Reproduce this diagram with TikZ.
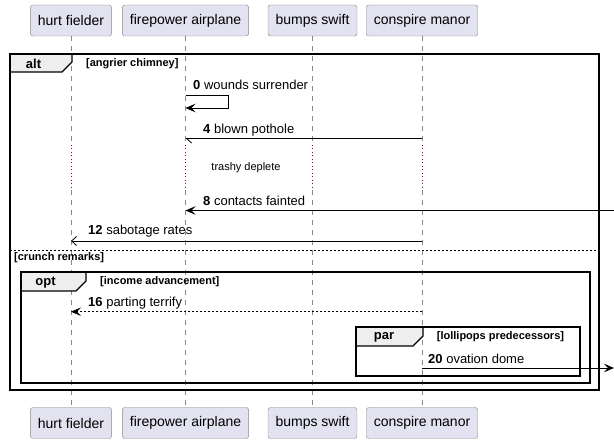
\documentclass[tikz,border=0pt]{standalone}
\usepackage{fontspec}
\setmainfont{Liberation Sans}
\usetikzlibrary{arrows.meta}
\definecolor{boxfill}{HTML}{E2E2F0}
\definecolor{boxline}{HTML}{888888}
\definecolor{tabfill}{HTML}{EEEEEE}
\definecolor{delayred}{HTML}{A80036}
\tikzset{
% Participant boxes, drawn at the top and again at the foot
participant box/.style={draw=boxline,fill=boxfill,rounded corners=2.5,minimum height=31pt,inner xsep=7.5pt,font=\fontsize{14}{16}\selectfont},
% Lifelines: dashed, dotted red while the delay lasts
life line/.style={draw=boxline,line width=0.6pt,dash pattern=on 5pt off 5pt},
delay line/.style={draw=delayred,line width=0.8pt,dash pattern=on 1pt off 2.5pt},
% Messages and their labels
msg label/.style={anchor=west,inner sep=0pt,font=\fontsize{13}{15}\selectfont},
sync msg/.style={line width=0.8pt,-{Stealth[length=10pt,width=8.5pt,inset=4pt]}},
open msg/.style={line width=0.8pt,-{Straight Barb[length=5pt,width=9pt,line width=0.8pt]}},
half msg/.style={line width=0.8pt,-{Straight Barb[left,length=5pt,width=9pt,line width=0.8pt]}},
% Group frames (alt, opt, par)
group frame/.style={draw,line width=2pt},
group tab/.style={draw,fill=tabfill,line width=1.2pt},
group name/.style={inner sep=0pt,font=\fontsize{13}{15}\selectfont\bfseries},
group guard/.style={anchor=west,inner sep=0pt,font=\fontsize{11}{13}\selectfont\bfseries}
}

\begin{document}
\begin{tikzpicture}[x=1pt,y=-1pt]
        \useasboundingbox (0,0) rectangle (614,443);
        % Participants, top and foot
        \node(hf)[participant box] at (71,20.5) {hurt fielder};
        \node(fp)[participant box] at (185.5,20.5) {firepower airplane};
        \node(bs)[participant box] at (312.5,20.5) {bumps swift};
        \node(cm)[participant box] at (422,20.5) {conspire manor};
        \node(hf-b)[participant box] at (71,423) {hurt fielder};
        \node(fp-b)[participant box] at (185.5,423) {firepower airplane};
        \node(bs-b)[participant box] at (312.5,423) {bumps swift};
        \node(cm-b)[participant box] at (422,423) {conspire manor};
        % Lifelines
        \foreach \p in {hf,fp,bs,cm}{
          \draw[life line] (\p.south) -- (\p |- 0,145);
          \draw[delay line] (\p |- 0,145) -- (\p |- 0,190);
          \draw[life line] (\p |- 0,190) -- (\p-b.north);
        }
        % alt frame
        \draw[group tab] (10,54) -- (72,54) -- (72,62) -- (62,72) -- (10,72) -- cycle;
        \draw[group frame] (10,54) rectangle (599,390);
        \node(alt)[group name] at (33.5,64) {alt};
        \node(alt-g)[group guard] at (86,64) {[angrier chimney]};
        \draw[dash pattern=on 2pt off 2pt,line width=0.8pt] (10,250) -- (599,250);
        \node(alt-e)[group guard] at (14,258) {[crunch remarks]};
        % opt frame
        \draw[group tab] (20.7,272.3) -- (86,272.3) -- (86,281) -- (76,291) -- (20.7,291) -- cycle;
        \draw[group frame] (20.7,272.3) rectangle (589.7,383.3);
        \node(opt)[group name] at (45.5,283) {opt};
        \node(opt-g)[group guard] at (100,281.7) {[income advancement]};
        % par frame
        \draw[group tab] (356.3,327.3) -- (423,327.3) -- (423,336) -- (413,346) -- (356.3,346) -- cycle;
        \draw[group frame] (356.3,327.3) rectangle (579.7,376);
        \node(par)[group name] at (384,337) {par};
        \node(par-g)[group guard] at (436.7,337) {[lollipops predecessors]};
        % Messages
        \draw[sync msg] (fp |- 0,95) -- ++(42.5,0) -- ++(0,13) -- (fp |- 0,108);
        \node(m0)[msg label] at (193,85) {\textbf{0} wounds surrender};
        \draw[half msg] (cm |- 0,138.5) -- (fp |- 0,138.5);
        \node(m4)[msg label] at (203,130) {\textbf{4} blown pothole};
        \node(delay)[inner sep=0pt,font=\fontsize{11}{13}\selectfont] at (246,168) {trashy deplete};
        \coordinate (in8) at (614,210.5);
        \draw[sync msg] (in8) -- (fp |- 0,210.5);
        \node(m8)[msg label] at (203,201) {\textbf{8} contacts fainted};
        \draw[open msg] (cm |- 0,241) -- (hf |- 0,241);
        \node(m12)[msg label] at (88,231) {\textbf{12} sabotage rates};
        \draw[sync msg,dash pattern=on 2pt off 2pt] (cm |- 0,311.7) -- (hf |- 0,311.7);
        \node(m16)[msg label] at (88,303) {\textbf{16} parting terrify};
        \coordinate (out20) at (614,368);
        \draw[sync msg] (cm |- 0,368) -- (out20);
        \node(m20)[msg label] at (428,359) {\textbf{20} ovation dome};
      \end{tikzpicture}
\end{document}
